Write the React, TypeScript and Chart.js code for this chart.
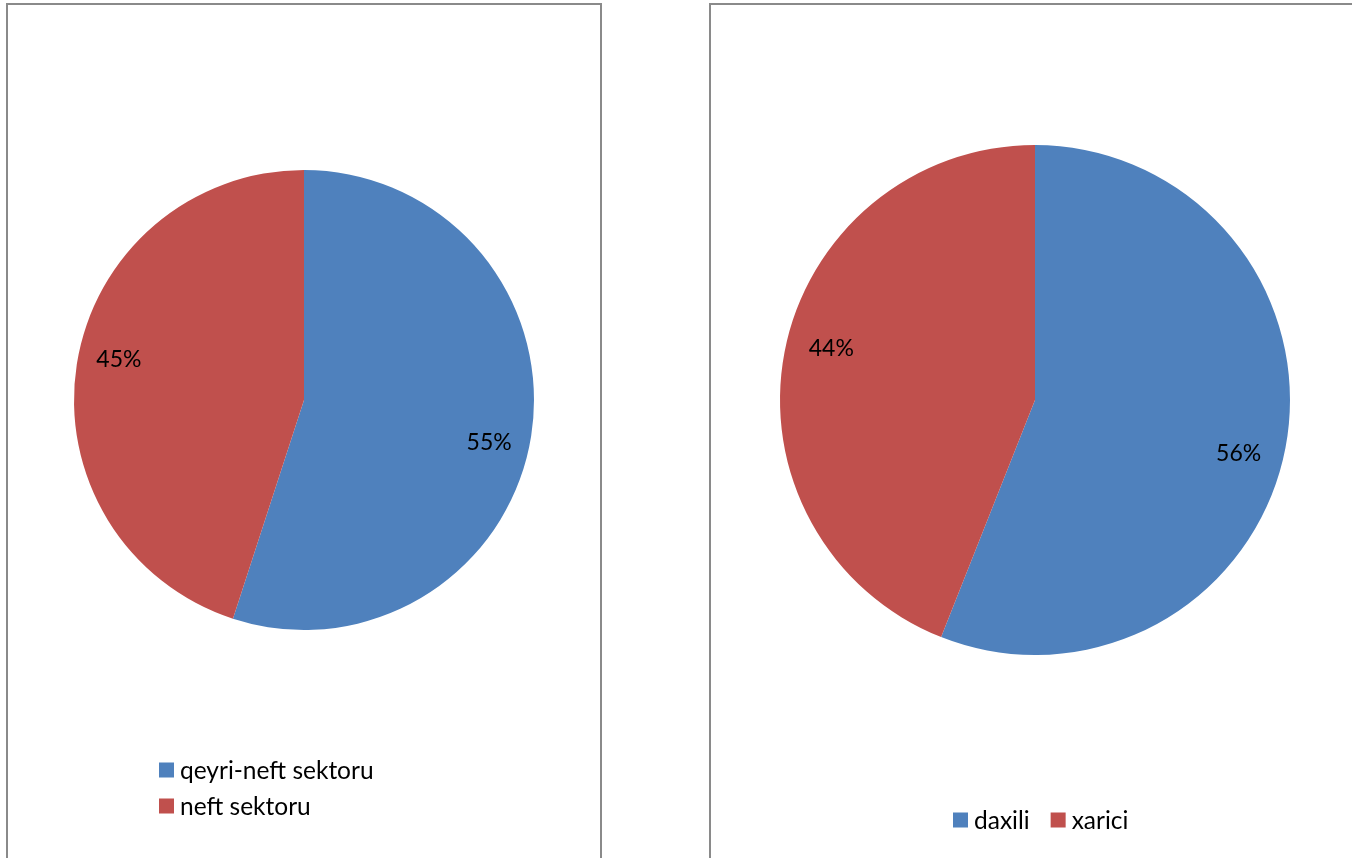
import React, { useEffect, useRef } from "react";
import { Chart, registerables } from "chart.js";

Chart.register(...registerables);

const leftCategories = ["qeyri-neft sektoru", "neft sektoru"];
const leftValues = [55, 45];
const rightCategories = ["daxili", "xarici"];
const rightValues = [56, 44];
const sliceColors = ["#4F81BD", "#C0504D"];

const FONT = "Lato, 'Open Sans', sans-serif";

type LegendCfg = { vertical: boolean; x: number; y: number; rowGap: number; itemGap: number };

function makePlugins(legend: LegendCfg) {
  return [
    {
      id: "pctLabels",
      afterDatasetsDraw(chart: any) {
        const meta = chart.getDatasetMeta(0);
        const data = chart.data.datasets[0].data as number[];
        const total = data.reduce((a, b) => a + b, 0);
        const ctx = chart.ctx;
        ctx.save();
        ctx.font = `23px ${FONT}`;
        ctx.fillStyle = "#000";
        ctx.textAlign = "center";
        ctx.textBaseline = "middle";
        meta.data.forEach((arc: any, i: number) => {
          const p = arc.getProps(["x", "y", "startAngle", "endAngle", "outerRadius"], true);
          const mid = (p.startAngle + p.endAngle) / 2 + (3.7 * Math.PI) / 180;
          const r = p.outerRadius * 0.825;
          const pct = Math.round((data[i] / total) * 100) + "%";
          ctx.fillText(pct, p.x + Math.cos(mid) * r, p.y + Math.sin(mid) * r + 1);
        });
        ctx.restore();
      },
    },
    {
      id: "customLegend",
      afterDraw(chart: any) {
        const ctx = chart.ctx;
        const labels = chart.data.labels as string[];
        const colors = chart.data.datasets[0].backgroundColor as string[];
        ctx.save();
        ctx.font = `24.5px ${FONT}`;
        ctx.textBaseline = "middle";
        ctx.textAlign = "left";
        let x = legend.x;
        let y = legend.y;
        labels.forEach((lab, i) => {
          ctx.fillStyle = colors[i];
          ctx.fillRect(x, y - 7.5, 15, 15);
          ctx.fillStyle = "#000";
          ctx.fillText(lab, x + 21, y + 1);
          if (legend.vertical) {
            y += legend.rowGap;
          } else {
            x += 21 + ctx.measureText(lab).width + legend.itemGap;
          }
        });
        ctx.restore();
      },
    },
  ];
}

function PieChart(props: {
  labels: string[];
  values: number[];
  padding: { left: number; right: number; top: number; bottom: number };
  legend: LegendCfg;
  style: React.CSSProperties;
}) {
  const ref = useRef<HTMLCanvasElement | null>(null);
  useEffect(() => {
    if (!ref.current) return;
    const chart = new Chart(ref.current, {
      type: "pie",
      data: {
        labels: props.labels,
        datasets: [
          {
            data: props.values,
            backgroundColor: sliceColors,
            borderWidth: 0,
          },
        ],
      },
      options: {
        animation: false,
        responsive: false,
        maintainAspectRatio: false,
        layout: { padding: props.padding },
        plugins: {
          legend: { display: false },
          tooltip: { enabled: false },
        },
      },
      plugins: makePlugins(props.legend) as any,
    });
    return () => chart.destroy();
  }, []);
  const w = props.style.width as number;
  const h = props.style.height as number;
  return <canvas ref={ref} width={w} height={h} style={{ position: "absolute", ...props.style }} />;
}

export default function App() {
  return (
    <div
      style={{
        position: "fixed",
        left: 0,
        top: 0,
        width: 1352,
        height: 858,
        overflow: "hidden",
        background: "#fff",
      }}
    >
      <div
        style={{
          position: "absolute",
          left: 6,
          top: 3,
          width: 592,
          height: 900,
          border: "2px solid #8a8a8a",
        }}
      />
      <div
        style={{
          position: "absolute",
          left: 709,
          top: 3,
          width: 700,
          height: 900,
          border: "2px solid #8a8a8a",
        }}
      />
      <PieChart
        labels={leftCategories}
        values={leftValues}
        padding={{ left: 65, right: 65, top: 165, bottom: 228 }}
        legend={{ vertical: true, x: 151, y: 765, rowGap: 36, itemGap: 0 }}
        style={{ left: 8, top: 5, width: 592, height: 853 }}
      />
      <PieChart
        labels={rightCategories}
        values={rightValues}
        padding={{ left: 68, right: 62, top: 139, bottom: 203 }}
        legend={{ vertical: false, x: 241, y: 814, rowGap: 0, itemGap: 21 }}
        style={{ left: 712, top: 6, width: 640, height: 852 }}
      />
    </div>
  );
}
